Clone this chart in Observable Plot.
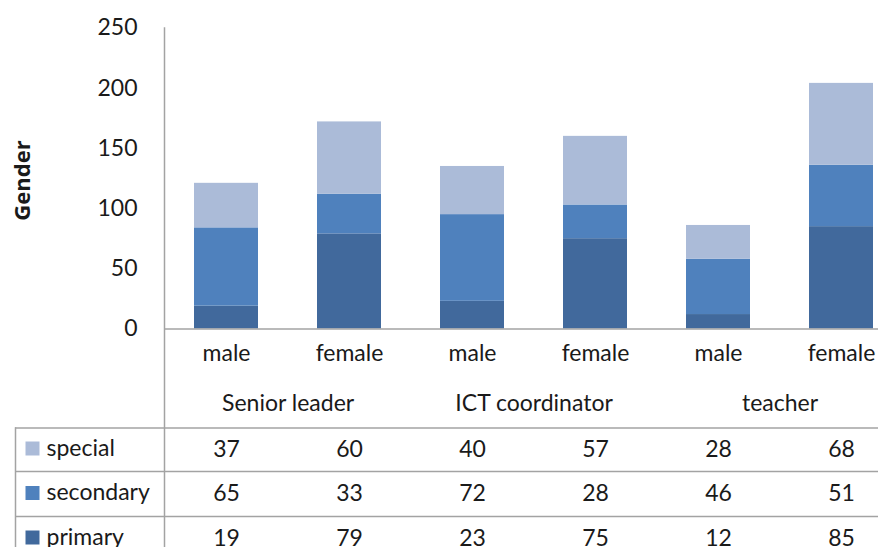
<!DOCTYPE html>
<html><head><meta charset="utf-8">
<script src="https://cdn.jsdelivr.net/npm/d3@7"></script>
<script src="https://cdn.jsdelivr.net/npm/@observablehq/plot@0.6"></script>
<style>body{margin:0;overflow:hidden;background:#fff}</style>
</head><body><div id="chart"></div>
<script>
// ---- data ----
const roles = ["Senior leader", "ICT coordinator", "teacher"];
const genders = ["male", "female"];
const series = ["primary", "secondary", "special"];
const primary = [19, 79, 23, 75, 12, 85];
const secondary = [65, 33, 72, 28, 46, 51];
const special = [37, 60, 40, 57, 28, 68];
const yTicks = [0, 50, 100, 150, 200, 250];
const yLabel = "Gender";

// ---- styling / layout ----
const colors = ["#41699c", "#4f81bd", "#abbbd8"];
const lineColor = "#a3a3a3";
const textColor = "#1a1a1a";
const font = "Lato, 'Open Sans', sans-serif";
const fs = 23;
const xRange = [164, 903];
const step = (xRange[1] - xRange[0]) / 6;
const rowDy = {special: 120.5, secondary: 165, primary: 209.5}; // table rows below baseline

const values = {primary, secondary, special};
const cols = roles.flatMap(r => genders.map(g => ({role: r, gender: g, key: r + "|" + g})));
const data = series.flatMap(s => cols.map((c, i) => ({...c, series: s, value: values[s][i]})));

const marks = [
  Plot.barY(data, {x: "key", y: "value", fill: "series"}),
  Plot.ruleY([0], {stroke: lineColor, strokeWidth: 1.5}),
  Plot.frame({anchor: "left", stroke: lineColor, strokeWidth: 1.5, insetBottom: -218.5}),
  Plot.frame({anchor: "left", stroke: lineColor, strokeWidth: 1.5, insetLeft: -149, insetTop: 400, insetBottom: -218.5}),
  ...[99, 142.5, 187.5].map(dy => Plot.ruleY([0], {dy, insetLeft: -149, stroke: lineColor, strokeWidth: 1.5})),
  Plot.text(cols, {x: "key", text: "gender", frameAnchor: "bottom", dy: 24.5, fontSize: fs, lineAnchor: "middle"}),
  Plot.text(cols.filter(c => c.gender === "male"), {x: "key", text: "role", frameAnchor: "bottom", dx: step / 2, dy: 74.5, fontSize: fs, lineAnchor: "middle"}),
  ...series.map(s => Plot.text(data.filter(d => d.series === s), {x: "key", text: d => String(d.value), frameAnchor: "bottom", dy: rowDy[s], fontSize: fs, lineAnchor: "middle"})),
  ...series.map(s => Plot.text([s], {text: d => d, frameAnchor: "bottom-left", dx: -118, dy: rowDy[s] - 1, fontSize: fs, textAnchor: "start", lineAnchor: "middle"})),
  ...series.map(s => Plot.dot([s], {fill: d => d, symbol: "square", r: 7.9, frameAnchor: "bottom-left", dx: -132, dy: rowDy[s] - 1})),
  Plot.text([yLabel], {text: d => d, frameAnchor: "left", dx: -142, dy: 2, rotate: -90, textAnchor: "middle", lineAnchor: "middle",
    fontWeight: "bold", fontSize: 22, fontFamily: "'Open Sans', sans-serif"})
];

const chart = Plot.plot({
  width: 878, height: 547,
  marginTop: 27.5, marginBottom: 218.5, marginLeft: 164, marginRight: 0,
  style: {fontFamily: font, fontSize: fs + "px", color: textColor, background: "#fff"},
  x: {domain: cols.map(c => c.key), range: xRange, paddingInner: 0.48, paddingOuter: 0.24, axis: null},
  y: {domain: [0, 250], range: [328.5, 27.5], ticks: yTicks, tickSize: 0, tickPadding: 27, label: null},
  color: {domain: series, range: colors},
  marks
});
document.getElementById("chart").append(chart);
</script>
</body></html>
